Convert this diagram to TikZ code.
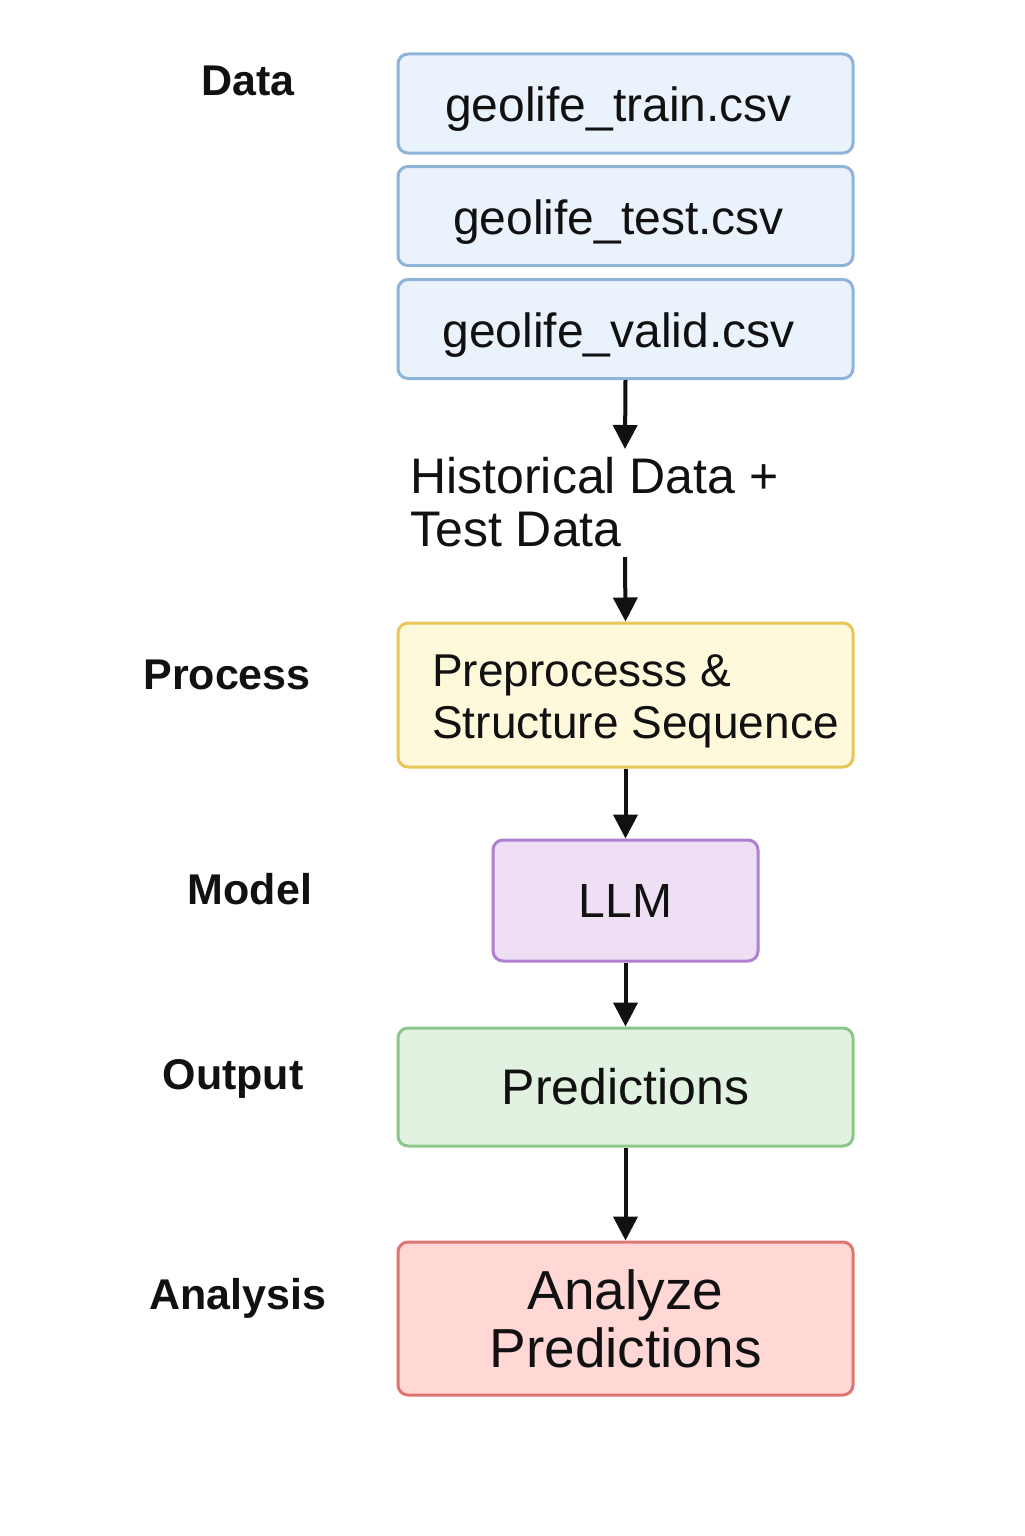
\documentclass[tikz,border=0pt]{standalone}
\usepackage{fontspec}
\setmainfont{Liberation Sans}
\usetikzlibrary{arrows.meta}
\definecolor{bluefill}{HTML}{EAF2FC}
\definecolor{blueline}{HTML}{8EB4DA}
\definecolor{yelfill}{HTML}{FFF9DC}
\definecolor{yelline}{HTML}{E8C65A}
\definecolor{purfill}{HTML}{EFDFF5}
\definecolor{purline}{HTML}{B07FD0}
\definecolor{grnfill}{HTML}{E2F2E0}
\definecolor{grnline}{HTML}{8DC68A}
\definecolor{redfill}{HTML}{FFD8D5}
\definecolor{redline}{HTML}{DE7772}
\definecolor{ink}{HTML}{111111}
\tikzset{
  box/.style={draw, line width=1.5pt, rounded corners=5pt, minimum width=227.5pt, inner sep=0pt, text=ink},
  datbox/.style={box, fill=bluefill, draw=blueline, minimum height=49.5pt, text height=23pt, text depth=5pt, font=\fontsize{24}{26}\selectfont},
  lbl/.style={font=\bfseries\fontsize{21.5}{24}\selectfont, text=ink, inner sep=0pt},
  flow/.style={line width=2pt, draw=ink, -{Triangle[length=12pt,width=12pt]}}
}
\begin{document}
\begin{tikzpicture}[x=0.5pt,y=-0.5pt]
\useasboundingbox[fill=white] (0,0) rectangle (1024,1536);
% data boxes
\node[datbox] (train) at (625.5,103.5) {\hspace*{-7pt}geolife\_train.csv};
\node[datbox] (test) at (625.5,216) {\hspace*{-7pt}geolife\_test.csv};
\node[datbox] (valid) at (625.5,329) {\hspace*{-7pt}geolife\_valid.csv};
% intermediate text
\node[anchor=north west, inner sep=0pt, align=left, text=ink, font=\fontsize{25}{26.5}\selectfont] (hist) at (410,457) {Historical Data +\\Test Data};
\coordinate (h1) at (625,449);
\coordinate (h2) at (625,557);
% process
\node[box, fill=yelfill, draw=yelline, minimum height=72pt, align=left, font=\fontsize{23}{26}\selectfont] (prep) at (625.5,695) {\hspace*{10pt}\rule{0pt}{22pt}Preprocesss \&\\\hspace*{10pt}Structure Sequence};
\node[box, fill=purfill, draw=purline, minimum width=132.5pt, minimum height=60.5pt, font=\fontsize{24}{26}\selectfont] (llm) at (625.5,900.5) {LLM};
\node[box, fill=grnfill, draw=grnline, minimum height=59pt, font=\fontsize{25}{27}\selectfont] (pred) at (625.5,1087) {Predictions};
\node[box, fill=redfill, draw=redline, minimum height=76.5pt, align=center, font=\fontsize{27.5}{29}\selectfont] (anal) at (625.5,1318.5) {Analyze\\Predictions};
% arrows
\draw[flow] (valid.south) -- (h1);
\draw[flow] (h2) -- (prep.north);
\draw[flow] (prep.south) -- (llm.north);
\draw[flow] (llm.south) -- (pred.north);
\draw[flow] (pred.south) -- (anal.north);
% row labels
\node[lbl] (ldata) at (248,81) {Data};
\node[lbl] (lproc) at (227,675) {Process};
\node[lbl] (lmodel) at (250,889) {Model};
\node[lbl] (lout) at (233,1079) {Output};
\node[lbl] (lana) at (238,1298) {Analysis};
\end{tikzpicture}
\end{document}
